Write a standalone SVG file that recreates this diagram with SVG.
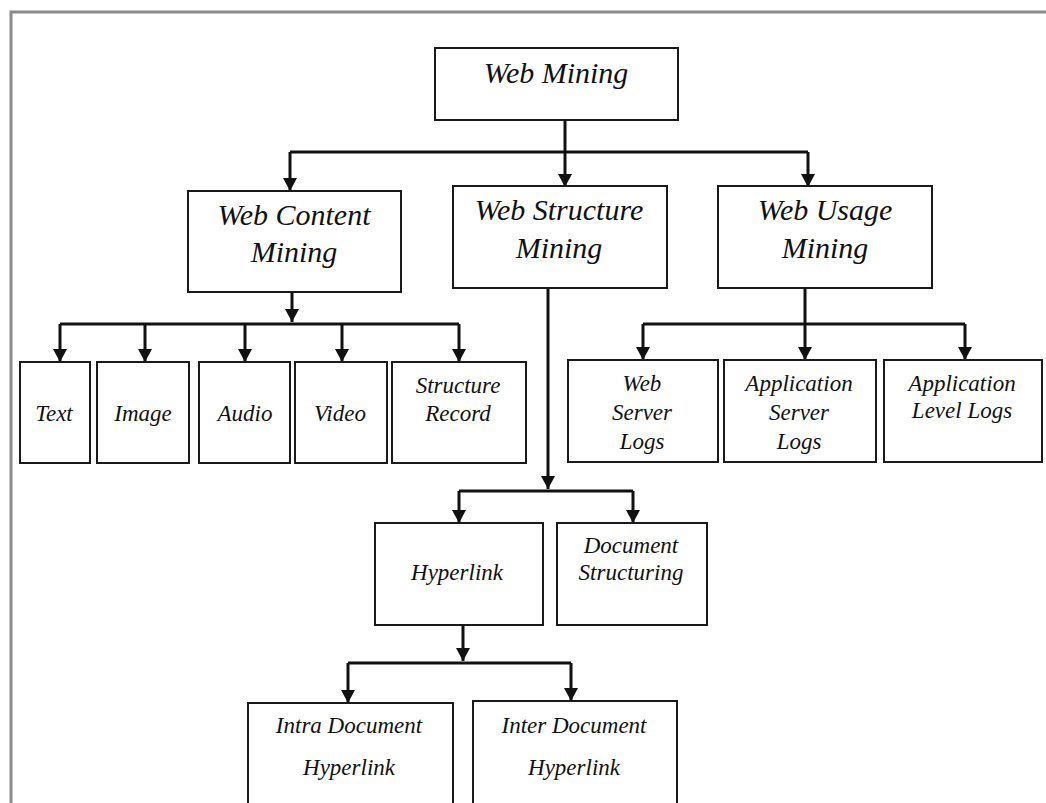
<svg xmlns="http://www.w3.org/2000/svg" width="1046" height="803" viewBox="0 0 1046 803">
<style>
.box{fill:#fff;stroke:#1a1a1a;stroke-width:2}
.t1{font-family:"Liberation Serif",serif;font-style:italic;font-size:30px;fill:#111;text-anchor:middle}
.t2{font-family:"Liberation Serif",serif;font-style:italic;font-size:23px;fill:#111;text-anchor:middle}
.ln{fill:none;stroke:#111;stroke-width:3}
.ar{fill:none;stroke:#111;stroke-width:3;marker-end:url(#ah)}
</style>
<defs>
<marker id="ah" markerUnits="userSpaceOnUse" markerWidth="16" markerHeight="14" refX="13" refY="7" orient="auto">
<path d="M0,0 L13,7 L0,14 Z" fill="#111"/>
</marker>
</defs>
<rect width="1046" height="803" fill="#fff"/>
<path d="M11,803 V12 H1046" fill="none" stroke="#8a8a8a" stroke-width="3"/>
<g id="connectors">
<path class="ar" d="M565,120 V187"/>
<path class="ln" d="M290,152 H808"/>
<path class="ar" d="M290,152 V191"/>
<path class="ar" d="M808,152 V187"/>
<path class="ar" d="M292,292 V322"/>
<path class="ln" d="M60,324 H459"/>
<path class="ar" d="M60,324 V362"/>
<path class="ar" d="M145,324 V362"/>
<path class="ar" d="M245,324 V362"/>
<path class="ar" d="M342,324 V362"/>
<path class="ar" d="M459,324 V362"/>
<path class="ar" d="M548,288 V489"/>
<path class="ln" d="M459,491 H633"/>
<path class="ar" d="M459,491 V523"/>
<path class="ar" d="M633,491 V523"/>
<path class="ar" d="M805,288 V360"/>
<path class="ln" d="M643,324 H965"/>
<path class="ar" d="M643,324 V360"/>
<path class="ar" d="M965,324 V360"/>
<path class="ar" d="M463,625 V661"/>
<path class="ln" d="M348,663 H571"/>
<path class="ar" d="M348,663 V703"/>
<path class="ar" d="M571,663 V701"/>
</g>
<g id="web-mining"><rect class="box" x="435" y="48" width="243" height="72"/><text class="t1" x="556" y="83">Web Mining</text></g>
<g id="web-content-mining"><rect class="box" x="188" y="191" width="213" height="101"/><text class="t1" x="294" y="225">Web Content</text><text class="t1" x="294" y="262">Mining</text></g>
<g id="web-structure-mining"><rect class="box" x="453" y="186" width="214" height="102"/><text class="t1" x="559" y="220">Web Structure</text><text class="t1" x="559" y="258">Mining</text></g>
<g id="web-usage-mining"><rect class="box" x="718" y="186" width="214" height="102"/><text class="t1" x="825" y="220">Web Usage</text><text class="t1" x="825" y="258">Mining</text></g>
<g id="text"><rect class="box" x="20" y="362" width="70" height="101"/><text class="t2" x="54" y="421">Text</text></g>
<g id="image"><rect class="box" x="97" y="362" width="92" height="101"/><text class="t2" x="143" y="421">Image</text></g>
<g id="audio"><rect class="box" x="199" y="362" width="91" height="101"/><text class="t2" x="245" y="421">Audio</text></g>
<g id="video"><rect class="box" x="295" y="362" width="92" height="101"/><text class="t2" x="340" y="421">Video</text></g>
<g id="structure-record"><rect class="box" x="392" y="362" width="134" height="101"/><text class="t2" x="458" y="393">Structure</text><text class="t2" x="458" y="421">Record</text></g>
<g id="web-server-logs"><rect class="box" x="568" y="360" width="150" height="102"/><text class="t2" x="642" y="391">Web</text><text class="t2" x="642" y="420">Server</text><text class="t2" x="642" y="449">Logs</text></g>
<g id="application-server-logs"><rect class="box" x="724" y="360" width="152" height="102"/><text class="t2" x="799" y="391">Application</text><text class="t2" x="799" y="420">Server</text><text class="t2" x="799" y="449">Logs</text></g>
<g id="application-level-logs"><rect class="box" x="884" y="360" width="158" height="102"/><text class="t2" x="962" y="391">Application</text><text class="t2" x="962" y="418">Level Logs</text></g>
<g id="hyperlink"><rect class="box" x="375" y="523" width="168" height="102"/><text class="t2" x="457" y="580">Hyperlink</text></g>
<g id="document-structuring"><rect class="box" x="557" y="523" width="150" height="102"/><text class="t2" x="631" y="553">Document</text><text class="t2" x="631" y="580">Structuring</text></g>
<g id="intra-document-hyperlink"><rect class="box" x="248" y="703" width="205" height="120"/><text class="t2" x="349" y="733">Intra Document</text><text class="t2" x="349" y="775">Hyperlink</text></g>
<g id="inter-document-hyperlink"><rect class="box" x="473" y="701" width="204" height="122"/><text class="t2" x="574" y="733">Inter Document</text><text class="t2" x="574" y="775">Hyperlink</text></g>
</svg>
